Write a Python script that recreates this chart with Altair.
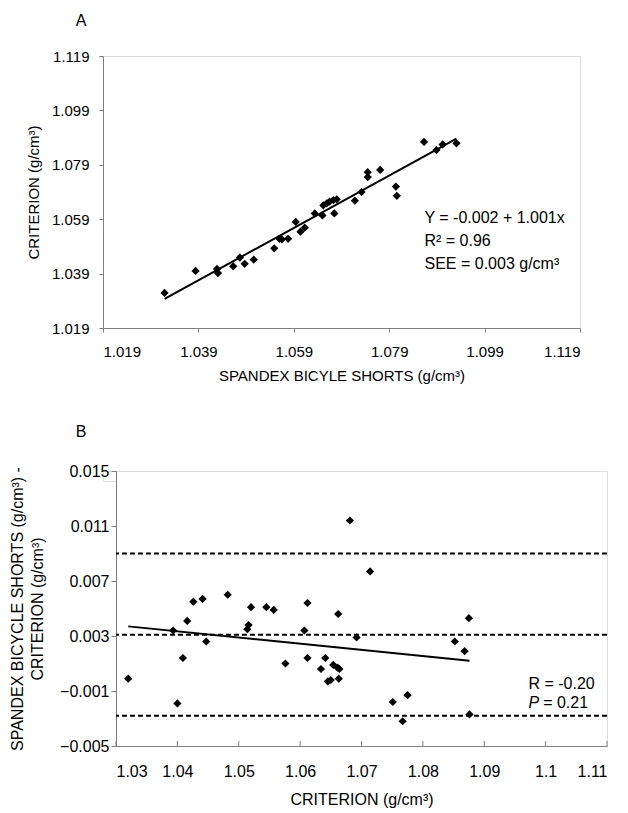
import altair as alt
import pandas as pd

FONT = "Liberation Sans"
AXC = "#7f7f7f"

# ---------------- Panel A data ----------------
a_spandex = [1.0319, 1.0384, 1.0429, 1.0431, 1.0463, 1.0477, 1.0487, 1.0506, 1.0549,
             1.0560, 1.0565, 1.0578, 1.0594, 1.0604, 1.0613, 1.0634, 1.0650, 1.0652,
             1.0659, 1.0665, 1.0673, 1.0680, 1.0675, 1.0718, 1.0732, 1.0745, 1.0745,
             1.0771, 1.0804, 1.0806, 1.0863, 1.0889, 1.0902, 1.0931]
a_criterion = [1.0319, 1.0400, 1.0407, 1.0392, 1.0417, 1.0449, 1.0426, 1.0441, 1.0483,
               1.0518, 1.0516, 1.0518, 1.0580, 1.0544, 1.0559, 1.0611, 1.0604, 1.0641,
               1.0648, 1.0655, 1.0660, 1.0663, 1.0611, 1.0658, 1.0690, 1.0763, 1.0745,
               1.0771, 1.0710, 1.0676, 1.0874, 1.0844, 1.0865, 1.0869]
a_fit_x = [1.0319, 1.0931]
a_fit_y = [1.0297, 1.0886]
a_ticks = [1.019, 1.039, 1.059, 1.079, 1.099, 1.119]
a_text = ["Y = -0.002 + 1.001x", "R² = 0.96", "SEE = 0.003 g/cm³"]
a_text_y = [1.0595, 1.0510, 1.0426]

# ---------------- Panel B data ----------------
b_criterion = [1.0320, 1.0393, 1.0400, 1.0409, 1.0416, 1.0426, 1.0441, 1.0447, 1.0482,
               1.0514, 1.0516, 1.0520, 1.0545, 1.0557, 1.0576, 1.0607, 1.0612, 1.0612,
               1.0641, 1.0634, 1.0654, 1.0661, 1.0664, 1.0645, 1.0650, 1.0663, 1.0662,
               1.0692, 1.0714, 1.0681, 1.0751, 1.0775, 1.0767, 1.0852, 1.0868, 1.0875,
               1.0876]
b_diff = [-0.0001, 0.0034, -0.0019, 0.0014, 0.0041, 0.0055, 0.0057, 0.0026, 0.0060,
          0.0035, 0.0038, 0.0051, 0.0051, 0.0049, 0.0010, 0.0034, 0.0054, 0.0014,
          0.0014, 0.0006, 0.0009, 0.0007, 0.0006, -0.0003, -0.0002, -0.0001, 0.0046,
          0.0029, 0.0077, 0.0114, -0.0018, -0.0013, -0.0032, 0.0026, 0.0019, 0.0043,
          -0.0027]
b_fit_x = [1.032, 1.0876]
b_fit_y = [0.0037, 0.0012]
b_limits = [0.0090, 0.0031, -0.0028]
b_xticks = [1.03, 1.04, 1.05, 1.06, 1.07, 1.08, 1.09, 1.10, 1.11]
b_yticks = [-0.005, -0.001, 0.003, 0.007, 0.011, 0.015]

A_W, A_H = 477, 272
B_W, B_H = 491, 275

axis_style = dict(grid=False, domainColor=AXC, tickColor=AXC, labelColor="black",
                  titleColor="black", labelFont=FONT, titleFont=FONT,
                  titleFontWeight="normal", domainWidth=1, tickWidth=1)

# ---------------- Panel A ----------------
df_a = pd.DataFrame({"x": a_spandex, "y": a_criterion})
df_afit = pd.DataFrame({"x": a_fit_x, "y": a_fit_y})
df_atext = pd.DataFrame({"x": [1.0864] * 3, "y": a_text_y, "t": a_text})

xa_scale = alt.Scale(domain=[1.019, 1.119], nice=False, zero=False)
ya_scale = alt.Scale(domain=[1.019, 1.119], nice=False, zero=False)

a_points = alt.Chart(df_a).mark_point(shape="diamond", filled=True, color="black",
                                      size=68, opacity=1).encode(
    x=alt.X("x:Q", scale=xa_scale,
            axis=alt.Axis(values=a_ticks, format=".3f", title="SPANDEX BICYLE SHORTS (g/cm³)",
                          tickSize=4, labelPadding=12, titlePadding=9,
                          labelFontSize=15, titleFontSize=15, **axis_style)),
    y=alt.Y("y:Q", scale=ya_scale,
            axis=alt.Axis(values=a_ticks, format=".3f", title="CRITERION (g/cm³)",
                          tickSize=4, labelPadding=10, titlePadding=10,
                          labelFontSize=15, titleFontSize=15, **axis_style)),
)
a_fit = alt.Chart(df_afit).mark_line(color="black", strokeWidth=2).encode(
    x="x:Q", y="y:Q")
a_ann = alt.Chart(df_atext).mark_text(align="left", baseline="middle", font=FONT,
                                      fontSize=16, color="black").encode(
    x="x:Q", y="y:Q", text="t:N")
a_label = alt.Chart(pd.DataFrame({"t": ["A"]})).mark_text(
    font=FONT, fontSize=16, color="black", align="center", baseline="middle").encode(
    x=alt.value(-22), y=alt.value(-35), text="t:N")
a_ext = alt.Chart(pd.DataFrame({"t": ["."]})).mark_text(
    font=FONT, fontSize=10, opacity=0, align="left", baseline="top").encode(
    x=alt.value(-93.7), y=alt.value(-47), text="t:N")

panel_a = alt.layer(a_points, a_fit, a_ann, a_label, a_ext).properties(width=A_W, height=A_H)

# ---------------- Panel B ----------------
df_b = pd.DataFrame({"x": b_criterion, "y": b_diff})
df_bfit = pd.DataFrame({"x": b_fit_x, "y": b_fit_y})
df_blim = pd.DataFrame({"y": b_limits})
df_btick = pd.DataFrame({"x": b_xticks})

xb_scale = alt.Scale(domain=[1.03, 1.11], nice=False, zero=False)
yb_scale = alt.Scale(domain=[-0.005, 0.015], nice=False, zero=False)

b_points = alt.Chart(df_b).mark_point(shape="diamond", filled=True, color="black",
                                      size=68, opacity=1).encode(
    x=alt.X("x:Q", scale=xb_scale,
            axis=alt.Axis(values=b_xticks, format="~g", title="CRITERION (g/cm³)",
                          ticks=False, tickSize=0, labelPadding=17, titlePadding=12,
                          labelFontSize=16, titleFontSize=16, **axis_style)),
    y=alt.Y("y:Q", scale=yb_scale,
            axis=alt.Axis(values=b_yticks, format=".3f",
                          title=["SPANDEX BICYCLE SHORTS (g/cm³) -", "CRITERION (g/cm³)"],
                          titleLineHeight=20,
                          tickSize=5, labelPadding=2, titlePadding=14,
                          labelFontSize=16, titleFontSize=16, **axis_style)),
)
b_lim = alt.Chart(df_blim).mark_rule(color="black", strokeWidth=2, strokeDash=[5, 3]).encode(
    y="y:Q")
b_fit = alt.Chart(df_bfit).mark_line(color="black", strokeWidth=2).encode(
    x="x:Q", y="y:Q")
b_ticks = alt.Chart(df_btick).mark_rule(color=AXC, strokeWidth=1).encode(
    x="x:Q", y=alt.value(B_H), y2=alt.value(B_H - 5))
b_r = alt.Chart(pd.DataFrame({"x": [1.0972], "y": [-0.00049], "t": ["R = -0.20"]})).mark_text(
    align="left", baseline="middle", font=FONT, fontSize=16, color="black").encode(
    x="x:Q", y="y:Q", text="t:N")
b_p = alt.Chart(pd.DataFrame({"x": [1.0972], "y": [-0.00187], "t": ["P"]})).mark_text(
    align="left", baseline="middle", font=FONT, fontSize=16, fontStyle="italic",
    color="black").encode(x="x:Q", y="y:Q", text="t:N")
b_p2 = alt.Chart(pd.DataFrame({"x": [1.0996], "y": [-0.00187], "t": ["= 0.21"]})).mark_text(
    align="left", baseline="middle", font=FONT, fontSize=16, color="black").encode(
    x="x:Q", y="y:Q", text="t:N")
b_label = alt.Chart(pd.DataFrame({"t": ["B"]})).mark_text(
    font=FONT, fontSize=16, color="black", align="center", baseline="middle").encode(
    x=alt.value(-35), y=alt.value(-39), text="t:N")

panel_b = alt.layer(b_lim, b_fit, b_points, b_ticks, b_r, b_p, b_p2, b_label).properties(
    width=B_W, height=B_H)

spacer = alt.Chart(pd.DataFrame({"t": [" "]})).mark_text(opacity=0).encode(
    text="t:N", x=alt.value(0), y=alt.value(0)).properties(width=13, height=10)

row_b = alt.hconcat(spacer, panel_b, spacing=0, bounds="flush")

chart = alt.vconcat(panel_a, row_b, spacing=39).properties(
    padding={"left": 0, "top": 0, "right": 0, "bottom": 0}
).configure_view(stroke="transparent").configure(background="white")

chart.save("out.html", embed_options={"renderer": "svg", "actions": False})
